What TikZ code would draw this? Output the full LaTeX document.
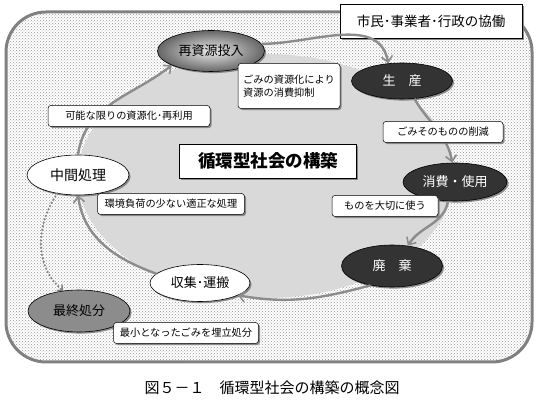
\documentclass[tikz,border=0pt]{standalone}
\usepackage{fontspec}
\setmainfont{Noto Sans CJK JP}
\usetikzlibrary{arrows.meta,shapes.geometric,shadows,patterns}
\begin{document}
\begin{tikzpicture}[x=1pt,y=1pt,
  shad/.style={drop shadow={shadow xshift=1.6pt,shadow yshift=-1.6pt,fill=black!55,opacity=0.8}},
  ell/.style={ellipse, draw=black, line width=0.6pt, inner sep=0pt, font=\fontsize{13}{15}\selectfont, shad},
  darkell/.style={ell, fill=black!80, text=white},
  lab/.style={draw=black, line width=0.5pt, rounded corners=3pt, fill=white, inner sep=2pt,
     font=\fontsize{10.2}{12.5}\selectfont, minimum height=21pt, shad},
  cyc/.style={draw=black!45, line width=2.4pt, -{Straight Barb[length=6pt,width=11pt,line width=1.6pt]}},
  dots/.style={draw=black!50, line width=2.4pt, dash pattern=on 0pt off 3.6pt, line cap=round,
     -{Straight Barb[length=4pt,width=8pt,line width=1.4pt]}}
]
\useasboundingbox (0,0) rectangle (540,403);
% outer frame
\draw[line width=3pt, draw=black!50, fill=white, rounded corners=40pt] (6,41) rectangle (532,391);
\fill[pattern=crosshatch dots, pattern color=black!40, rounded corners=38pt] (7.6,42.6) rectangle (530.4,389.4);
% central light ellipse
\fill[black!15] (266,227) ellipse [x radius=188, y radius=122];

% top-right box
\node[draw=black, line width=0.6pt, fill=white, minimum width=182pt, minimum height=34pt,
  font=\fontsize{13.5}{15}\selectfont, shad] (kyodo) at (431,382) {市民･事業者･行政の協働};

% ellipse nodes
\node[ell, minimum width=107pt, minimum height=41pt, shading=radial, inner color=black!8, outer color=black!60] (saishigen) at (211,352) {再資源投入};
\node[darkell, minimum width=101pt, minimum height=36pt] (seisan) at (402,322) {生　産};
\node[darkell, minimum width=104pt, minimum height=38pt] (shohi) at (455,221) {消費・使用};
\node[darkell, minimum width=101pt, minimum height=42pt] (haiki) at (392,137) {廃　棄};
\node[ell, fill=white, minimum width=100pt, minimum height=37pt] (shushu) at (200,120) {収集･運搬};
\node[ell, fill=black!45, minimum width=102pt, minimum height=42pt] (saishu) at (79,92) {最終処分};
\node[ell, fill=white, minimum width=102pt, minimum height=40pt, font=\fontsize{14}{16}\selectfont] (chukan) at (78,228) {中間処理};

% cycle arrows
\draw[cyc] (chukan.north) to[out=82,in=218] (saishigen.200);
\draw[cyc] (saishigen.8) to[out=0,in=100] (seisan.128);
\draw[cyc] (seisan.-55) to[out=-60,in=100] (shohi.98);
\draw[cyc] (shohi.250) to[out=-100,in=58] (haiki.52);
\draw[cyc] (haiki.222) to[out=195,in=-10] (shushu.-18);
\draw[cyc] (shushu.168) to[out=160,in=-82] (chukan.south);
% dotted arrow
\draw[dots] (chukan.222) to[out=235,in=140] (saishu.128);

% labels
\node[lab, minimum width=102pt, minimum height=45pt, align=left] (lshigen) at (289,317) {ごみの資源化により\\資源の消費抑制};
\node[lab, minimum width=162pt] (lkano) at (129,287) {可能な限りの資源化･再利用};
\node[draw=black, line width=0.6pt, fill=white, minimum width=177pt, minimum height=34pt,
  font=\fontsize{17.5}{19}\selectfont\bfseries, shad] (title) at (268,242) {循環型社会の構築};
\node[lab, minimum width=120pt] (lsakugen) at (443,271) {ごみそのものの削減};
\node[lab, minimum width=106pt] (ltaisetsu) at (385,197) {ものを大切に使う};
\node[lab, minimum width=147pt] (lkankyo) at (171,199) {環境負荷の少ない適正な処理};
\node[lab, minimum width=145pt] (lumetate) at (186,70) {最小となったごみを埋立処分};

% caption
\node[font=\fontsize{15}{17}\selectfont] (caption) at (272,15) {図５－１　循環型社会の構築の概念図};
\end{tikzpicture}
\end{document}
